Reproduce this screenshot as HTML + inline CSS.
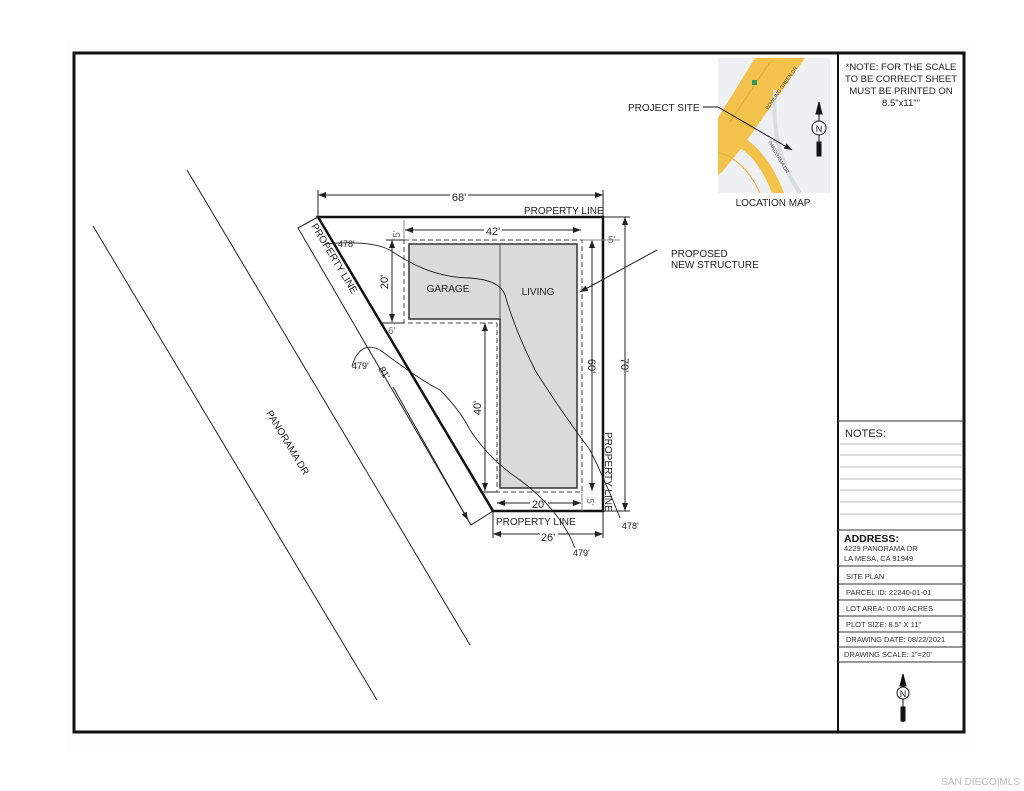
<!DOCTYPE html>
<html><head><meta charset="utf-8"><style>
html,body{margin:0;padding:0;background:#fff;}
svg{display:block;font-family:"Liberation Sans",Arial,sans-serif;}
</style></head><body>
<svg width="1024" height="791" viewBox="0 0 1024 791" xmlns="http://www.w3.org/2000/svg">
<defs>
<marker id="a" markerWidth="8" markerHeight="6" refX="8" refY="3" orient="auto-start-reverse" markerUnits="userSpaceOnUse"><path d="M0,0 L8,3 L0,6 Z" fill="#222"/></marker>
</defs>
<rect x="0" y="0" width="1024" height="791" fill="#fff"/>
<rect x="66" y="40" width="910" height="712" fill="#fdfdfd"/>
<rect x="74" y="53" width="890" height="679" fill="#fff" stroke="#111" stroke-width="3"/>
<line x1="838" y1="53" x2="838" y2="732" stroke="#111" stroke-width="2"/>
<g font-size="9.5" fill="#222" text-anchor="middle">
<text x="901" y="70">*NOTE: FOR THE SCALE</text>
<text x="901" y="82">TO BE CORRECT SHEET</text>
<text x="901" y="94">MUST BE PRINTED ON</text>
<text x="901" y="106">8.5"x11""</text>
</g>
<line x1="838" y1="421" x2="964" y2="421" stroke="#333" stroke-width="1"/>
<text x="845" y="437" font-size="11" fill="#222">NOTES:</text>
<g stroke="#bbb" stroke-width="1">
<line x1="840" y1="444" x2="962" y2="444"/><line x1="840" y1="455" x2="962" y2="455"/>
<line x1="840" y1="467" x2="962" y2="467"/><line x1="840" y1="479" x2="962" y2="479"/>
<line x1="840" y1="490" x2="962" y2="490"/><line x1="840" y1="502" x2="962" y2="502"/>
<line x1="840" y1="514" x2="962" y2="514"/>
</g>
<g stroke="#333" stroke-width="1">
<line x1="838" y1="530" x2="964" y2="530"/>
<line x1="838" y1="566" x2="964" y2="566"/>
<line x1="838" y1="584" x2="964" y2="584"/>
<line x1="838" y1="600" x2="964" y2="600"/>
<line x1="838" y1="616" x2="964" y2="616"/>
<line x1="838" y1="632" x2="964" y2="632"/>
<line x1="838" y1="647" x2="964" y2="647"/>
<line x1="838" y1="662" x2="964" y2="662"/>
</g>
<text x="844" y="542" font-size="10.5" font-weight="bold" fill="#111">ADDRESS:</text>
<g font-size="7.5" fill="#333">
<text x="844" y="551">4229 PANORAMA DR</text>
<text x="844" y="561">LA MESA, CA 91949</text>
<text x="846" y="579">SITE PLAN</text>
<text x="846" y="595">PARCEL ID: 22240-01-01</text>
<text x="846" y="611">LOT AREA: 0.076 ACRES</text>
<text x="846" y="627">PLOT SIZE: 8.5" X 11"</text>
<text x="846" y="642">DRAWING DATE: 08/22/2021</text>
<text x="844" y="657">DRAWING SCALE: 1"=20'</text>
</g>
<g stroke="#111" fill="#111">
<polygon points="903,674 900,686 906,686"/>
<line x1="903" y1="686" x2="903" y2="722" stroke-width="1"/>
<circle cx="903" cy="693" r="6" fill="#fff" stroke-width="1"/>
<rect x="901" y="707" width="4" height="14"/>
</g>
<text x="903" y="697" font-size="9" text-anchor="middle" fill="#111">N</text>
<!-- location map -->
<rect x="718" y="58" width="112" height="135" fill="#eef0f1"/>
<path d="M718 118 L755 58 L805 58 L740 150 L722 172 L718 175 Z" fill="#f2c24a"/>
<path d="M730 122 L770 62" stroke="#e0a83a" stroke-width="1" fill="none"/>
<path d="M718 142 Q752 142 772 193 L784 193 Q760 132 718 130 Z" fill="#f2c24a"/>
<path d="M718 152 Q745 160 760 193" stroke="#e6b240" stroke-width="1" fill="none"/>
<path d="M775 90 Q770 150 800 193" stroke="#d8dde0" stroke-width="4" fill="none"/>
<rect x="752" y="80" width="5" height="5" fill="#2e9a5a"/>
<g font-size="5" fill="#555">
<text transform="translate(768,110) rotate(-55)">BOWLING GREEN DR</text>
<text transform="translate(768,142) rotate(60)">PANORAMA DR</text>
</g>
<g stroke="#111" fill="#111">
<polygon points="819,102 816,114 822,114"/>
<line x1="819" y1="114" x2="819" y2="155" stroke-width="1"/>
<circle cx="819" cy="128" r="7" fill="#fff" stroke-width="1"/>
<rect x="817" y="142" width="4" height="14"/>
</g>
<text x="819" y="132" font-size="9" text-anchor="middle" fill="#111">N</text>
<text x="628" y="111" font-size="10" fill="#222">PROJECT SITE</text>
<line x1="703" y1="107" x2="718" y2="107" stroke="#111"/>
<line x1="718" y1="107" x2="792" y2="150" stroke="#111" marker-end="url(#a)"/>
<text x="773" y="206" font-size="10" text-anchor="middle" fill="#222">LOCATION MAP</text>
<!-- roads -->
<line x1="187" y1="170" x2="470" y2="645" stroke="#222" stroke-width="1"/>
<line x1="93" y1="226" x2="377" y2="700" stroke="#222" stroke-width="1"/>
<text transform="translate(266,413) rotate(59)" font-size="10" fill="#222">PANORAMA DR</text>
<polyline points="318,217 298,228 471,525 493,511" fill="none" stroke="#222" stroke-width="1"/>
<line x1="393" y1="387" x2="468" y2="520" stroke="#222" stroke-width="1" marker-end="url(#a)"/>
<text transform="translate(311,226) rotate(59)" font-size="10" fill="#222">PROPERTY LINE</text>
<text transform="translate(378,369) rotate(59)" font-size="10" fill="#222">81'</text>
<polygon points="318,217 603,217 603,511 493,511" fill="none" stroke="#111" stroke-width="2.5"/>
<polygon points="409,244 577,244 577,488 500,488 500,319 409,319" fill="#dadada" stroke="#333" stroke-width="1.5"/>
<line x1="500" y1="244" x2="500" y2="319" stroke="#555" stroke-width="1"/>
<text x="448" y="292" font-size="10" text-anchor="middle" fill="#222">GARAGE</text>
<text x="538" y="295" font-size="10" text-anchor="middle" fill="#222">LIVING</text>
<polygon points="404,240 582,240 582,492 497,492 497,323 404,323" fill="none" stroke="#444" stroke-width="1" stroke-dasharray="5,3"/>
<g stroke="#222" stroke-width="1" fill="none">
<line x1="318" y1="195" x2="603" y2="195" marker-start="url(#a)" marker-end="url(#a)"/><line x1="318" y1="190" x2="318" y2="217"/><line x1="603" y1="190" x2="603" y2="217"/>
<line x1="603" y1="217" x2="630" y2="217"/><line x1="603" y1="511" x2="630" y2="511"/>
<line x1="625" y1="217" x2="625" y2="511" marker-start="url(#a)" marker-end="url(#a)"/>
<line x1="493" y1="511" x2="493" y2="538"/><line x1="603" y1="511" x2="603" y2="538"/>
<line x1="493" y1="534" x2="603" y2="534" marker-start="url(#a)" marker-end="url(#a)"/>
<line x1="405" y1="230" x2="581" y2="230" marker-start="url(#a)" marker-end="url(#a)"/>
<line x1="392" y1="240" x2="392" y2="322" marker-start="url(#a)" marker-end="url(#a)"/>
<line x1="386" y1="240" x2="404" y2="240"/><line x1="380" y1="323" x2="404" y2="323"/>
<line x1="485" y1="323" x2="485" y2="491" marker-start="url(#a)" marker-end="url(#a)"/>
<line x1="480" y1="492" x2="497" y2="492"/>
<line x1="592" y1="240" x2="592" y2="491" marker-start="url(#a)" marker-end="url(#a)"/>
<line x1="497" y1="503" x2="581" y2="503" marker-start="url(#a)" marker-end="url(#a)"/>
<line x1="404" y1="220" x2="404" y2="240" stroke="#888"/>
<line x1="582" y1="240" x2="620" y2="240" stroke="#888"/>
<line x1="582" y1="492" x2="582" y2="511" stroke="#888"/>
<line x1="657" y1="250" x2="580" y2="292" marker-end="url(#a)"/>
</g>
<g fill="#222" font-size="11" text-anchor="middle">
<rect x="450" y="189" width="18" height="10" fill="#fff"/><text x="459" y="201">68'</text>
<rect x="484" y="224" width="18" height="10" fill="#fff"/><text x="493" y="235">42'</text>
<rect x="540" y="529" width="18" height="10" fill="#fff"/><text x="548" y="541">26'</text>
<rect x="530" y="498" width="18" height="10" fill="#fff"/><text x="539" y="508">20'</text>
<text transform="translate(388,282) rotate(-90)">20'</text>
<text transform="translate(481,408) rotate(-90)">40'</text>
<text transform="translate(588,366) rotate(90)">60'</text>
<text transform="translate(621,365) rotate(90)">70'</text>
</g>
<g fill="#777" font-size="10">
<text transform="translate(400,234) rotate(-90)" text-anchor="middle">5'</text>
<text x="608" y="243">5'</text>
<text transform="translate(587,502) rotate(90)" text-anchor="middle">5'</text>
<text x="388" y="334">6'</text>
</g>
<text x="524" y="214" font-size="10" fill="#222">PROPERTY LINE</text>
<text x="496" y="525" font-size="10" fill="#222">PROPERTY LINE</text>
<text transform="translate(605,432) rotate(90)" font-size="10" fill="#222">PROPERTY LINE</text>
<text x="671" y="257" font-size="10" fill="#222">PROPOSED</text>
<text x="671" y="268" font-size="10" fill="#222">NEW STRUCTURE</text>
<g stroke="#222" stroke-width="0.9" fill="none">
<path d="M325 244 Q370 240 390 250 Q430 278 470 278 Q500 280 505 295 Q515 330 535 370 Q560 410 590 450 Q605 480 620 518"/>
<path d="M352 366 Q360 340 380 350 Q420 380 440 390 Q460 410 470 430 Q490 460 520 480 Q560 510 575 548"/>
</g>
<g font-size="9" fill="#222">
<text x="338" y="247">478'</text>
<text x="352" y="369">479'</text>
<text x="622" y="529">478'</text>
<text x="573" y="556">479'</text>
</g>
<text x="1020" y="785" font-size="10" text-anchor="end" fill="#bbb">SAN DIEGO|MLS</text>
</svg>
</body></html>
